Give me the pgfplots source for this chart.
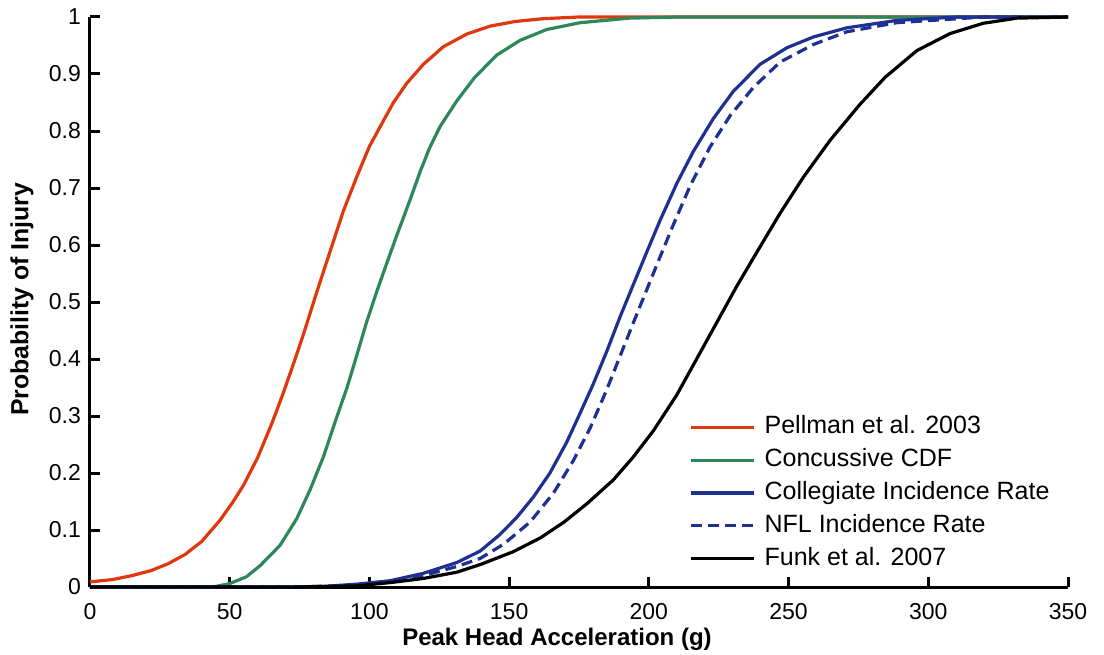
\documentclass[border=0pt]{standalone}
\usepackage{fontspec}
\setmainfont{Liberation Sans}
\usepackage{pgfplots}
\pgfplotsset{compat=1.18}

\definecolor{pellred}{RGB}{224,56,14}
\definecolor{ccdfgreen}{RGB}{46,135,88}
\definecolor{incblue}{RGB}{30,48,146}

% Pellman et al. 2003
\pgfplotstableread{
x y
0 0.009
8 0.013
15 0.020
22 0.029
28 0.041
34 0.057
40 0.080
46.5 0.117
51 0.148
55 0.179
60 0.227
65 0.286
69 0.338
73 0.394
76.5 0.445
81 0.515
86 0.59
90.7 0.66
95.5 0.72
100 0.773
105 0.818
108.6 0.85
113.4 0.884
119.3 0.917
126.5 0.948
134.8 0.970
143.2 0.984
152 0.992
162 0.997
175 1.0
350 1.0
}\pellman

% Concussive CDF
\pgfplotstableread{
x y
0 0
44 0
50 0.006
56 0.018
61 0.038
68 0.073
74 0.12
78.8 0.171
83.5 0.228
88.3 0.298
92 0.35
95.5 0.407
99 0.465
102.6 0.518
106.2 0.568
109.8 0.617
114.6 0.68
118.1 0.728
121.5 0.77
125.3 0.808
131.3 0.853
137.5 0.893
145.5 0.933
153.9 0.959
163.4 0.978
175.4 0.99
193 0.998
210 1.0
350 1.0
}\concussive

% Collegiate incidence rate
\pgfplotstableread{
x y
0 0
70 0
83.5 0.001
95.5 0.005
107.4 0.011
119.3 0.024
131.3 0.043
139.6 0.063
146.7 0.092
152.7 0.122
158.7 0.158
164.6 0.2
170.6 0.254
175.4 0.305
180.1 0.356
184.9 0.413
189.7 0.474
194.4 0.53
199.2 0.587
204 0.643
210 0.708
215.9 0.764
223.1 0.822
230.3 0.870
239.8 0.917
249.4 0.946
258.9 0.965
270.8 0.981
288.7 0.994
310 1.0
350 1.0
}\collegiate

% NFL incidence rate
\pgfplotstableread{
x y
0 0
70 0
90 0.002
105 0.008
119.3 0.02
131.3 0.036
139.6 0.05
148 0.075
157.5 0.114
165.9 0.165
173 0.222
179 0.279
185 0.347
189.7 0.405
194.4 0.463
199.2 0.521
204 0.579
208.8 0.636
214.7 0.703
221.9 0.772
229.1 0.827
237.5 0.877
247 0.921
259 0.952
270.8 0.974
288.7 0.99
320 1.0
350 1.0
}\nfl

% Funk et al. 2007
\pgfplotstableread{
x y
0 0
75 0
95.5 0.002
108 0.008
119.3 0.015
131.3 0.026
140 0.04
151.5 0.062
161.1 0.086
169.4 0.113
177.8 0.146
187.3 0.188
194.4 0.228
201.6 0.274
210 0.337
217.1 0.4
224.3 0.464
231.5 0.528
238.6 0.587
247 0.656
255.3 0.719
264.9 0.784
275.6 0.847
284.5 0.894
295.9 0.941
307.8 0.971
319.7 0.989
331.7 0.998
350 1.0
}\funk

\begin{document}
\begin{tikzpicture}
\begin{axis}[
    name=ax,
    scale only axis,
    width=489pt, height=285pt,
    xmin=0, xmax=350,
    ymin=0, ymax=1,
    axis lines=left,
    axis line style={-, line width=1.5pt},
    every inner x axis line/.append style={-},
    every inner y axis line/.append style={-},
    xtick={0,50,...,350},
    ytick={0,0.1,0.2,0.3,0.4,0.5,0.6,0.7,0.8,0.9,1},
    yticklabels={0,0.1,0.2,0.3,0.4,0.5,0.6,0.7,0.8,0.9,1},
    tick align=inside,
    major tick length=5pt,
    tick style={line width=1.5pt, black},
    /pgf/number format/assume math mode=true,
    ticklabel style={font=\fontsize{11.5}{13}\selectfont},
    xticklabel style={yshift=-4.5pt},
    yticklabel style={xshift=-1pt},
    xlabel={\textbf{Peak Head Acceleration (g)}},
    ylabel={\textbf{Probability of Injury}},
    label style={font=\fontsize{12}{14}\selectfont},
    ylabel style={font=\fontsize{12.4}{14}\selectfont},
    xlabel style={at={(axis description cs:0.4775,-0.1035)}, anchor=base},
    ylabel style={at={(axis description cs:-0.0695,0.505)}, anchor=center},
    clip=false,
    legend cell align=left,
    legend style={
        draw=none, fill=none,
        at={(rel axis cs:0.6125,0.301)}, anchor=north west,
        inner sep=0pt,
        font=\fontsize{12.5}{14}\selectfont,
        row sep=4.9pt,
        /tikz/column sep=4.5pt,
        nodes={inner sep=0pt, text height=9pt, text depth=2.5pt},
    },
    legend image code/.code={\draw[#1] (0pt,0pt) -- (31.5pt,0pt);},
    every axis plot/.append style={line width=1.6pt},
]
\addplot[pellred] table {\pellman};
\addlegendentry{Pellman et al. 2003}
\addplot[ccdfgreen] table {\concussive};
\addlegendentry{Concussive CDF}
\addplot[incblue] table {\collegiate};
\addlegendentry{Collegiate Incidence Rate}
\addplot[incblue, dash pattern=on 5.5pt off 3pt] table {\nfl};
\addlegendentry{NFL Incidence Rate}
\addplot[black] table {\funk};
\addlegendentry{Funk et al. 2007}
\end{axis}
\pgfresetboundingbox
\path ([xshift=-45pt,yshift=-33.5pt]ax.south west) rectangle ([xshift=18pt,yshift=8.5pt]ax.north east);
\end{tikzpicture}
\end{document}
